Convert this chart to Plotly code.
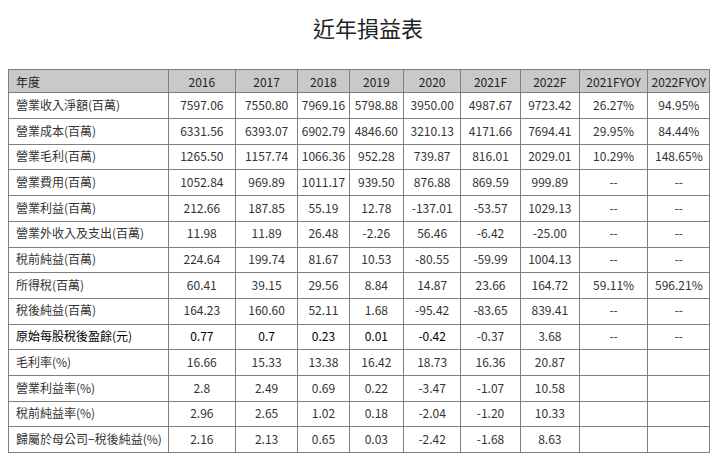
import plotly.graph_objects as go

years = ["2016", "2017", "2018", "2019", "2020", "2021F", "2022F", "2021FYOY", "2022FYOY"]
labels = ["營業收入淨額(百萬)", "營業成本(百萬)", "營業毛利(百萬)", "營業費用(百萬)", "營業利益(百萬)",
          "營業外收入及支出(百萬)", "稅前純益(百萬)", "所得稅(百萬)", "稅後純益(百萬)", "原始每股稅後盈餘(元)",
          "毛利率(%)", "營業利益率(%)", "稅前純益率(%)", "歸屬於母公司−稅後純益(%)"]
rows = [
    ["7597.06", "7550.80", "7969.16", "5798.88", "3950.00", "4987.67", "9723.42", "26.27%", "94.95%"],
    ["6331.56", "6393.07", "6902.79", "4846.60", "3210.13", "4171.66", "7694.41", "29.95%", "84.44%"],
    ["1265.50", "1157.74", "1066.36", "952.28", "739.87", "816.01", "2029.01", "10.29%", "148.65%"],
    ["1052.84", "969.89", "1011.17", "939.50", "876.88", "869.59", "999.89", "--", "--"],
    ["212.66", "187.85", "55.19", "12.78", "-137.01", "-53.57", "1029.13", "--", "--"],
    ["11.98", "11.89", "26.48", "-2.26", "56.46", "-6.42", "-25.00", "--", "--"],
    ["224.64", "199.74", "81.67", "10.53", "-80.55", "-59.99", "1004.13", "--", "--"],
    ["60.41", "39.15", "29.56", "8.84", "14.87", "23.66", "164.72", "59.11%", "596.21%"],
    ["164.23", "160.60", "52.11", "1.68", "-95.42", "-83.65", "839.41", "--", "--"],
    ["0.77", "0.7", "0.23", "0.01", "-0.42", "-0.37", "3.68", "--", "--"],
    ["16.66", "15.33", "13.38", "16.42", "18.73", "16.36", "20.87", "", ""],
    ["2.8", "2.49", "0.69", "0.22", "-3.47", "-1.07", "10.58", "", ""],
    ["2.96", "2.65", "1.02", "0.18", "-2.04", "-1.20", "10.33", "", ""],
    ["2.16", "2.13", "0.65", "0.03", "-2.42", "-1.68", "8.63", "", ""],
]
cols = [labels] + [[r[j] for r in rows] for j in range(len(years))]
widths = [162, 68, 63, 52, 55, 58, 60, 60, 69, 63]
emph = [c <= 5 for c in range(10)]
colors = [["#000" if (i == 9 and emph[c]) else "#333" for i in range(len(labels))] for c in range(10)]

fig = go.Figure(go.Table(
    domain=dict(x=[0, 0.976], y=[0, 0.87]),
    columnwidth=widths,
    header=dict(values=["年度"] + years, fill_color="#c9c9c9", line_color="#7f7f7f",
                align=["left"] + ["center"] * 9, height=23,
                font=dict(family="Noto Sans CJK TC", size=12, color="#222")),
    cells=dict(values=cols, fill_color="white", line_color="#7f7f7f",
               align=["left"] + ["center"] * 9, height=25.7,
               font=dict(family="Noto Sans CJK TC", size=12, color=colors)),
))
fig.update_layout(
    width=720, height=476, margin=dict(l=0, r=0, t=0, b=0), paper_bgcolor="white",
    title=dict(text="近年損益表", x=0.5, xanchor="center", y=0.955, yanchor="middle",
               font=dict(family="Noto Sans CJK TC", size=22, color="#222")),
)
fig.write_html("out.html")
